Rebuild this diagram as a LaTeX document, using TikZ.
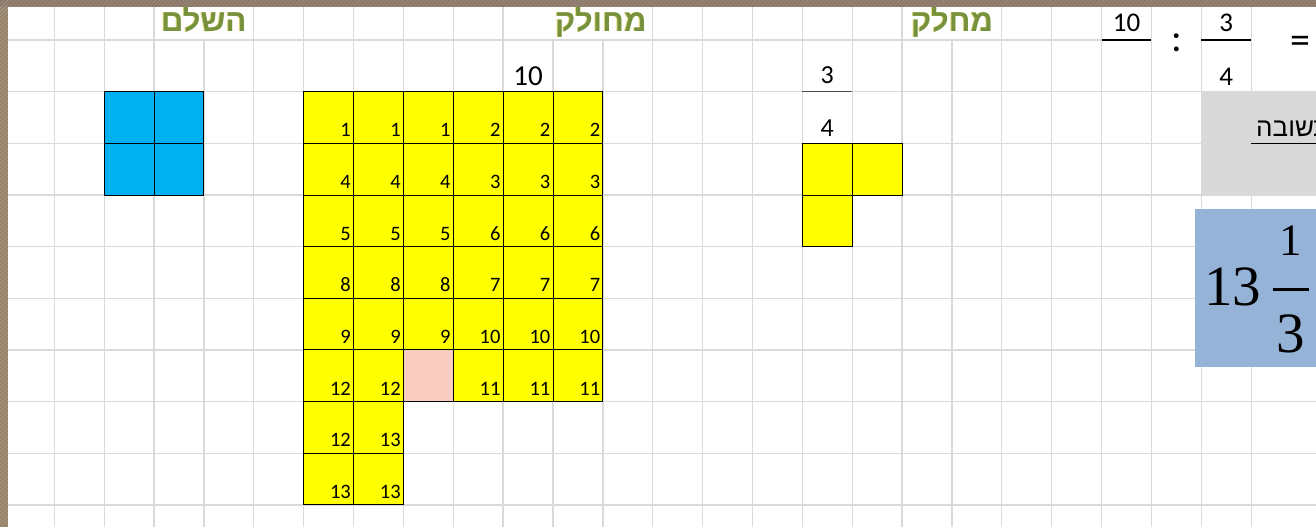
\documentclass[tikz,border=0pt]{standalone}
\usepackage{fontspec}
\setmainfont{Carlito}
\newfontfamily\heb[Script=Hebrew]{Liberation Sans}
\newfontfamily\tms{Liberation Serif}
\TeXXeTstate=1
\definecolor{gridc}{RGB}{218,218,218}
\definecolor{olivec}{RGB}{118,146,60}
\definecolor{shadowc}{RGB}{228,218,130}
\definecolor{yelc}{RGB}{255,255,0}
\definecolor{pinkc}{RGB}{248,204,190}
\definecolor{bluec}{RGB}{0,176,240}
\definecolor{grayc}{RGB}{217,217,217}
\definecolor{ansc}{RGB}{149,179,215}
\definecolor{brownc}{RGB}{150,131,106}
\definecolor{brownt}{RGB}{140,120,104}
\begin{document}
\begin{tikzpicture}[x=1pt,y=-1pt,
  gridline/.style={draw=gridc,line width=1.3pt},
  cellbox/.style={draw=black,line width=0.9pt},
  numlab/.style={anchor=base east,inner sep=0pt,font=\fontsize{20.5}{24}\selectfont},
  bignum/.style={anchor=base,inner sep=0pt,font=\fontsize{29}{32}\selectfont},
  hdr/.style={anchor=base east,inner sep=0pt,font=\heb\bfseries\fontsize{31}{34}\selectfont,text=olivec},
  hdrshadow/.style={hdr,text=shadowc},
  uline/.style={draw=black,line width=1.2pt}]
\useasboundingbox (0,0) rectangle (1316,527);
\fill[white] (0,0) rectangle (1316,527);
% grid: vertical lines
\foreach \k in {0,...,24}{
  \draw[gridline] ({54.3+49.87*\k},40) -- ({54.3+49.87*\k},527);
}
\foreach \k in {0,1,2,4,5,6,7,8,9,12,13,14,15,16,17,19,20,21,22,23,24}{
  \draw[gridline] ({54.3+49.87*\k},7) -- ({54.3+49.87*\k},40);
}
% grid: horizontal lines
\foreach \r in {1,...,9}{
  \draw[gridline] (8,{40+51.65*\r}) -- (1316,{40+51.65*\r});
}
\draw[gridline] (8,40) -- ({54.3+49.87*22},40);
\draw[gridline] ({54.3+49.87*23},40) -- ({54.3+49.87*24},40);
% blue whole
\foreach \c in {1,2}{\foreach \r in {1,2}{
  \path[cellbox,fill=bluec] ({54.3+49.87*\c},{40+51.65*\r}) rectangle ({54.3+49.87*(\c+1)},{40+51.65*(\r+1)});
}}
% yellow dividend
\foreach \c/\r/\t in {5/1/1,6/1/1,7/1/1,8/1/2,9/1/2,10/1/2,
  5/2/4,6/2/4,7/2/4,8/2/3,9/2/3,10/2/3,
  5/3/5,6/3/5,7/3/5,8/3/6,9/3/6,10/3/6,
  5/4/8,6/4/8,7/4/8,8/4/7,9/4/7,10/4/7,
  5/5/9,6/5/9,7/5/9,8/5/10,9/5/10,10/5/10,
  5/6/12,6/6/12,8/6/11,9/6/11,10/6/11,
  5/7/12,6/7/13,
  5/8/13,6/8/13}{
  \path[cellbox,fill=yelc] ({54.3+49.87*\c},{40+51.65*\r}) rectangle ({54.3+49.87*(\c+1)},{40+51.65*(\r+1)});
  \node[numlab] (n-\c-\r) at ({54.3+49.87*(\c+1)-2.5},{40+51.65*(\r+1)-6.5}) {\t};
}
\path[cellbox,fill=pinkc] ({54.3+49.87*7},{40+51.65*6}) rectangle ({54.3+49.87*8},{40+51.65*7});
\node[bignum] (dividend) at ({54.3+49.87*9.5},85) {10};
% divisor
\node[bignum,font=\fontsize{26}{30}\selectfont] (dnum) at ({54.3+49.87*15.5},83.3) {3};
\draw[draw=black!70,line width=1.2pt] ({54.3+49.87*15},91.65) -- ({54.3+49.87*16},91.65);
\node[bignum,font=\fontsize{26}{30}\selectfont] (dden) at ({54.3+49.87*15.5},136) {4};
\foreach \c/\r in {15/2,16/2,15/3}{
  \path[cellbox,fill=yelc] ({54.3+49.87*\c},{40+51.65*\r}) rectangle ({54.3+49.87*(\c+1)},{40+51.65*(\r+1)});
}
% headers
\node[hdrshadow] (h1s) at (245.7,31.2) {\beginR השלם\endR};
\node[hdr] (h1) at (246.7,31.7) {\beginR השלם\endR};
\node[hdrshadow] (h2s) at (645.7,31.2) {\beginR מחולק\endR};
\node[hdr] (h2) at (646.7,31.7) {\beginR מחולק\endR};
\node[hdrshadow] (h3s) at (992.3,31.2) {\beginR מחלק\endR};
\node[hdr] (h3) at (993.3,31.7) {\beginR מחלק\endR};
% top right exercise
\node[bignum,font=\fontsize{27}{30}\selectfont] (e10) at ({54.3+49.87*21.5},31.7) {10};
\draw[uline] ({54.3+49.87*21},40) -- ({54.3+49.87*22},40);
\node[bignum,font=\fontsize{40}{44}\selectfont] (colon) at ({54.3+49.87*22.5},52) {:};
\node[bignum,font=\fontsize{27}{30}\selectfont] (e3) at ({54.3+49.87*23.5},31.7) {3};
\draw[uline] ({54.3+49.87*23},40) -- ({54.3+49.87*24},40);
\node[bignum,font=\fontsize{27}{30}\selectfont] (e4) at ({54.3+49.87*23.5},85) {4};
\node[bignum,font=\fontsize{40}{44}\selectfont] (eq) at (1300,53) {=};
% answer label
\fill[grayc] ({54.3+49.87*23},91.65) rectangle (1316,194.95);
\node[anchor=base west,inner sep=0pt,font=\heb\fontsize{26}{30}\selectfont] (anslbl) at (1256,136.2) {\beginR תשובה\endR};
\draw[draw=black,line width=1.2pt] ({54.3+49.87*24},143.3) -- (1316,143.3);
% answer
\fill[ansc] (1195,209) rectangle (1316,366.7);
\node[anchor=base west,inner sep=0pt,font=\tms\fontsize{57}{60}\selectfont] (whole) at (1204,305) {13};
\node[anchor=base,inner sep=0pt,font=\tms\fontsize{45}{50}\selectfont] (fnum) at (1291,255) {1};
\draw[line width=3pt] (1272.7,289.3) -- (1309.3,289.3);
\node[anchor=base,inner sep=0pt,font=\tms\fontsize{57}{60}\selectfont] (fden) at (1291,352) {3};
% frame
\fill[brownc] (0,0) rectangle (8,527);
\fill[brownt] (0,0) rectangle (1316,7);
\begin{scope}
\clip (0,0) rectangle (8,527) (0,0) rectangle (1316,7);
\foreach \i in {0,4,...,1330}{
  \draw[white,opacity=0.12,line width=1pt] (\i,0) -- (\i-12,12);
}
\foreach \i in {0,4,...,540}{
  \draw[white,opacity=0.12,line width=1pt] (8,\i) -- (0,\i+8);
}
\end{scope}
\end{tikzpicture}
\end{document}
